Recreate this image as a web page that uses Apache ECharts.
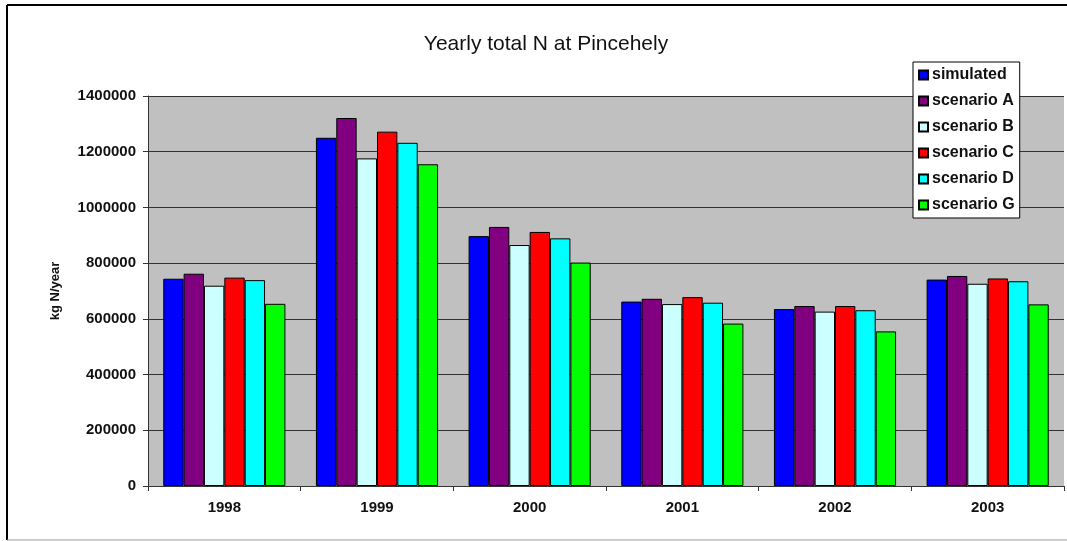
<!DOCTYPE html>
<html>
<head>
<meta charset="utf-8">
<script src="https://cdn.jsdelivr.net/npm/echarts@6/dist/echarts.min.js"></script>
<style>
html,body{margin:0;padding:0;background:#fff;}
#chart{width:1067px;height:541px;}
</style>
</head>
<body>
<div id="chart"></div>
<script>
const years = ['1998','1999','2000','2001','2002','2003'];
const simulated = [744000, 1250000, 897000, 662000, 635000, 741000];
const scenarioA = [762000, 1321000, 930000, 672000, 646000, 754000];
const scenarioB = [719000, 1176000, 865000, 653000, 626000, 726000];
const scenarioC = [748000, 1272000, 912000, 678000, 646000, 745000];
const scenarioD = [739000, 1232000, 889000, 658000, 631000, 735000];
const scenarioG = [654000, 1155000, 802000, 583000, 555000, 652000];
const seriesNames = ['simulated','scenario A','scenario B','scenario C','scenario D','scenario G'];
const seriesData = [simulated, scenarioA, scenarioB, scenarioC, scenarioD, scenarioG];
const seriesColors = ['#0000FF','#800080','#CCFFFF','#FF0000','#00FFFF','#00FF00'];
const yTicks = [0, 200000, 400000, 600000, 800000, 1000000, 1200000, 1400000];

const chart = echarts.init(document.getElementById('chart'), null, {renderer:'canvas'});
const font = 'Arial, "Liberation Sans", sans-serif';
chart.setOption({
  animation:false,
  backgroundColor:'#fff',
  title:{
    text:'Yearly total N at Pincehely',
    left:541, top:29, textAlign:'center',
    textStyle:{fontFamily:font, fontSize:21, fontWeight:'normal', color:'#111'}
  },
  graphic:[
    {type:'line', shape:{x1:7,y1:5,x2:1067,y2:5}, style:{stroke:'#000', lineWidth:2}},
    {type:'line', shape:{x1:7,y1:5,x2:7,y2:540}, style:{stroke:'#000', lineWidth:2}},
    {type:'line', shape:{x1:7,y1:540,x2:1067,y2:540}, style:{stroke:'#999', lineWidth:1}}
  ],
  legend:{
    orient:'vertical',
    left:913, top:62,
    backgroundColor:'#fff',
    borderColor:'#000', borderWidth:1,
    padding:[5,5,5,5],
    itemWidth:9, itemHeight:9, itemGap:10,
    icon:'rect',
    textStyle:{fontFamily:font, fontSize:16, fontWeight:'bold', color:'#111', padding:[0,0,0,-1]},
    data:seriesNames
  },
  grid:{left:148, right:3, top:96, bottom:55, show:true, backgroundColor:'#C0C0C0', borderWidth:0},
  xAxis:{
    type:'category', data:years,
    axisLine:{show:true, lineStyle:{color:'#333', width:1}},
    axisTick:{show:true, alignWithLabel:false, length:5, lineStyle:{color:'#333'}},
    axisLabel:{fontFamily:font, fontSize:15, fontWeight:'bold', color:'#111', margin:14}
  },
  yAxis:{
    type:'value', min:0, max:1400000, interval:200000,
    name:'kg N/year', nameLocation:'middle', nameGap:86, nameRotate:90,
    nameTextStyle:{fontFamily:font, fontSize:13, fontWeight:'bold', color:'#111'},
    axisLine:{show:true, lineStyle:{color:'#333', width:1}},
    axisTick:{show:true, length:5, lineStyle:{color:'#333'}},
    axisLabel:{fontFamily:font, fontSize:15, fontWeight:'bold', color:'#111', margin:12,
      formatter:function(v){ return yTicks.indexOf(v) >= 0 ? String(v) : ''; }},
    splitLine:{show:true, lineStyle:{color:'#333', width:1}}
  },
  series: seriesNames.map(function(n,i){
    return {
      name:n, type:'bar', data:seriesData[i],
      barGap:'0%', barCategoryGap:'20%',
      itemStyle:{color:seriesColors[i], borderColor:'#000', borderWidth:1}
    };
  })
});
</script>
</body>
</html>
